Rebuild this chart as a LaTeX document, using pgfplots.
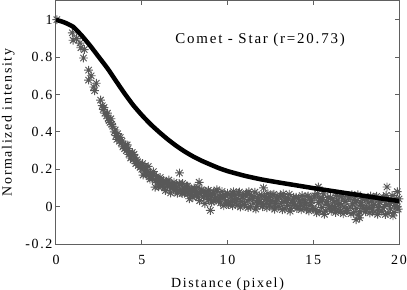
\documentclass[border=0pt]{standalone}
\usepackage{fontspec}
\setmainfont{Liberation Serif}[LetterSpace=12]
\usepackage{pgfplots}
\pgfplotsset{compat=1.18}
\definecolor{frame}{RGB}{96,96,96}
\definecolor{star}{RGB}{88,88,88}
\pgfdeclareplotmark{mstar}{%
 \pgfpathmoveto{\pgfqpoint{-\pgfplotmarksize}{0pt}}\pgfpathlineto{\pgfqpoint{\pgfplotmarksize}{0pt}}%
 \pgfpathmoveto{\pgfqpoint{0pt}{-\pgfplotmarksize}}\pgfpathlineto{\pgfqpoint{0pt}{\pgfplotmarksize}}%
 \pgfpathmoveto{\pgfqpoint{-0.72\pgfplotmarksize}{-0.72\pgfplotmarksize}}\pgfpathlineto{\pgfqpoint{0.72\pgfplotmarksize}{0.72\pgfplotmarksize}}%
 \pgfpathmoveto{\pgfqpoint{-0.72\pgfplotmarksize}{0.72\pgfplotmarksize}}\pgfpathlineto{\pgfqpoint{0.72\pgfplotmarksize}{-0.72\pgfplotmarksize}}%
 \pgfusepathqstroke}
\begin{document}
\begin{tikzpicture}
\useasboundingbox (-56bp,-46bp) rectangle (351bp,244bp);
\begin{axis}[
  at={(0,0)}, anchor=south west,
  scale only axis,
  width=343bp, height=243bp,
  xmin=0, xmax=20, ymin=-0.2, ymax=1.1,
  xtick={0,5,10,15,20},
  ytick={-0.2,0,0.2,0.4,0.6,0.8,1},
  yticklabels={-0.2,0,0.2,0.4,0.6,0.8,1},
  xticklabels={0,5,10,15,20},
  tick align=inside,
  major tick length=4bp,
  axis line style={frame, line width=1bp},
  every tick/.style={frame, line width=1bp},
  tick label style={font=\fontsize{14}{16}\selectfont},
  xticklabel style={yshift=-8bp},
  label style={font=\fontsize{14}{16}\selectfont},
  xlabel={Distance (pixel)},
  ylabel={Normalized intensity},
  xlabel style={yshift=-6bp},
  ylabel style={yshift=4bp},
  clip mode=individual,
]
\addplot[only marks, mark=mstar, mark size=4.4bp, color=star, line width=0.95bp] table {
x y
0.05 1.00
0.95 0.93
1.0 0.89
1.2 0.90
1.4 0.875
1.45 0.85
1.6 0.795
1.65 0.84
1.9 0.677
1.9 0.73
2.05 0.70
2.2 0.64
2.25 0.62
2.35 0.66
2.6 0.57
2.7 0.54
2.75 0.52
2.8 0.53
2.85 0.50
2.95 0.485
3.0 0.50
3.05 0.47
3.1 0.46
3.15 0.45
3.2 0.47
3.25 0.44
3.3 0.43
3.4 0.40
3.45 0.41
3.5 0.38
3.55 0.36
3.6 0.39
3.65 0.37
3.7 0.35
3.75 0.37
3.8 0.34
3.85 0.35
3.9 0.32
4.0 0.31
4.05 0.33
4.1 0.30
4.15 0.33
4.2 0.31
4.25 0.28
4.3 0.29
4.35 0.26
4.4 0.27
4.45 0.29
4.5 0.25
4.55 0.28
4.6 0.26
4.65 0.23
4.7 0.25
4.75 0.24
4.8 0.22
4.85 0.23
4.9 0.21
4.95 0.22
5.0 0.20
5.05 0.23
5.08 0.169
5.15 0.19
5.18 0.216
5.2 0.21
5.28 0.173
5.3 0.175
5.35 0.19
5.38 0.215
5.45 0.16
5.48 0.147
5.5 0.18
5.58 0.164
5.6 0.15
5.68 0.187
5.7 0.17
5.78 0.104
5.8 0.14
5.85 0.16
5.88 0.153
5.95 0.13
5.98 0.106
6.05 0.12
6.08 0.156
6.1 0.14
6.18 0.116
6.2 0.11
6.25 0.13
6.28 0.14
6.35 0.10
6.38 0.086
6.45 0.13
6.48 0.126
6.5 0.11
6.58 0.142
6.6 0.12
6.68 0.073
6.7 0.10
6.75 0.12
6.78 0.114
6.85 0.09
6.88 0.130
6.9 0.11
6.98 0.091
7.0 0.10
7.08 0.072
7.2 0.18
7.1 0.08
7.18 0.124
7.2 0.12
7.28 0.086
7.3 0.09
7.35 0.07
7.38 0.124
7.45 0.10
7.48 0.071
7.55 0.08
7.58 0.093
7.6 0.11
7.68 0.110
7.7 0.07
7.78 0.042
7.8 0.09
7.85 0.06
7.88 0.094
7.95 0.08
7.98 0.050
8.05 0.10
8.08 0.093
8.1 0.06
8.18 0.066
8.2 0.08
8.28 0.104
8.3 0.05
8.38 0.032
8.35 0.13
8.4 0.07
8.48 0.075
8.5 0.09
8.58 0.083
8.6 0.05
8.68 0.016
8.7 0.06
8.78 0.059
8.8 0.08
8.88 0.087
8.9 0.04
8.98 0.040
9.0 -0.02
9.0 0.06
9.08 0.024
9.1 0.07
9.18 0.078
9.2 0.03
9.28 0.041
9.3 0.05
9.38 0.090
9.4 0.08
9.48 0.029
9.5 0.04
9.58 0.052
9.6 0.02
9.68 0.081
9.7 0.06
9.78 0.005
9.8 0.05
9.88 0.059
9.9 0.03
9.98 0.017
10.0 0.072
10.05 0.012
10.1 0.021
10.15 0.066
10.2 0.051
10.25 0.031
10.3 0.005
10.35 0.080
10.4 0.060
10.45 0.020
10.5 0.039
10.55 0.044
10.6 0.008
10.65 0.073
10.7 0.078
10.75 -0.002
10.8 0.027
10.85 0.052
10.9 0.052
10.95 0.012
11.0 0.011
11.05 0.066
11.1 0.070
11.15 0.030
11.2 -0.005
11.25 0.080
11.3 0.039
11.35 -0.001
11.4 0.059
11.45 0.044
11.5 0.018
11.55 0.053
11.6 0.077
11.65 -0.013
11.7 0.002
11.75 0.032
11.8 0.041
11.85 0.061
11.9 0.026
11.95 0.016
12.0 0.060
12.05 0.000
12.1 0.010
12.1 0.10
12.15 0.055
12.2 0.039
12.25 0.019
12.3 -0.006
12.35 0.069
12.4 0.048
12.45 0.008
12.5 0.027
12.55 0.032
12.6 -0.003
12.65 0.062
12.7 0.066
12.75 -0.014
12.8 0.016
12.85 0.041
12.9 0.040
12.95 0.000
13.0 0.000
13.05 0.055
13.1 0.059
13.15 0.019
13.2 -0.016
13.25 0.069
13.3 0.028
13.35 -0.012
13.4 0.047
13.45 0.032
13.5 0.007
13.55 0.042
13.6 0.066
13.65 -0.024
13.7 -0.009
13.75 0.021
13.8 0.030
13.85 0.050
13.9 0.015
13.95 0.005
14.0 0.050
14.05 -0.010
14.1 0.000
14.15 0.045
14.2 0.029
14.25 0.009
14.3 -0.016
14.35 0.059
14.4 0.038
14.45 -0.002
14.5 0.018
14.55 0.023
14.6 -0.012
14.65 0.053
14.7 0.057
14.75 -0.023
14.8 0.007
14.85 0.031
14.9 0.031
14.95 -0.009
15.0 -0.014
15.05 0.052
15.1 0.058
15.15 -0.015
15.2 -0.033
15.25 0.069
15.3 0.021
15.3 0.105
15.35 -0.027
15.4 0.045
15.45 0.026
15.5 -0.004
15.55 0.038
15.6 0.068
15.65 -0.041
15.7 -0.023
15.75 0.013
15.8 0.025
15.85 0.048
15.9 0.006
15.95 -0.006
16.0 0.048
16.05 -0.024
16.1 -0.012
16.15 0.042
16.2 0.024
16.25 0.000
16.3 -0.031
16.35 0.059
16.4 0.035
16.45 -0.013
16.5 0.011
16.55 0.017
16.6 -0.025
16.65 0.053
16.7 0.058
16.75 -0.038
16.8 -0.002
16.85 0.028
16.9 0.028
16.95 -0.020
17.0 -0.020
17.05 0.046
17.1 0.052
17.15 -0.002
17.2 -0.038
17.25 0.064
17.3 0.015
17.35 -0.033
17.4 0.039
17.45 0.021
17.5 -0.009
17.5 -0.07
17.55 0.033
17.6 0.063
17.65 -0.045
17.7 -0.027
17.7 -0.06
17.75 0.008
17.8 0.020
17.85 0.044
17.9 0.002
17.95 -0.010
18.0 0.044
18.05 -0.028
18.1 -0.016
18.15 0.038
18.2 0.020
18.25 -0.004
18.3 -0.034
18.35 0.056
18.4 0.031
18.45 -0.017
18.5 0.007
18.55 0.013
18.6 -0.029
18.65 0.049
18.7 0.055
18.75 -0.041
18.8 -0.005
18.85 0.025
18.9 0.024
18.95 -0.024
19.0 -0.024
19.05 0.042
19.1 0.048
19.15 0.000
19.2 -0.042
19.25 0.060
19.3 0.012
19.3 0.105
19.35 -0.036
19.4 0.036
19.45 0.018
19.5 -0.012
19.55 0.030
19.6 0.059
19.65 -0.049
19.7 -0.031
19.75 0.005
19.8 0.017
19.85 0.041
19.9 -0.001
19.9 0.08
19.95 -0.013
20.0 0.041
};
\addplot[black, line width=4.5bp, smooth, tension=0.3] table {
x y
0 1.0
0.5 0.985
1 0.962
1.5 0.915
2 0.86
2.5 0.80
3 0.74
3.5 0.672
4 0.605
4.5 0.543
5 0.49
5.5 0.442
6 0.40
6.5 0.361
7 0.326
7.5 0.295
8 0.268
8.5 0.245
9 0.225
9.5 0.206
10 0.19
11 0.165
12 0.145
13 0.129
14 0.114
15 0.099
16 0.085
17 0.071
18 0.057
19 0.043
20 0.03
};
\node[font=\fontsize{15}{17}\selectfont] at (axis cs:11.9,0.89) {Comet - Star (r=20.73)};
\end{axis}
\end{tikzpicture}
\end{document}
